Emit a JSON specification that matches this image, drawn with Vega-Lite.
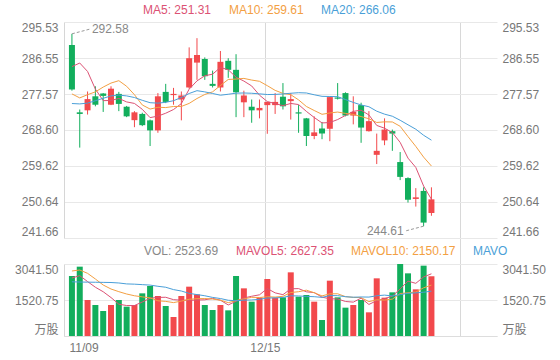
{
"$schema":"https://vega.github.io/schema/vega-lite/v6.json",
"width":433,"height":314,
"autosize":{"type":"none"},
"padding":{"left":64,"top":22,"right":63,"bottom":24},
"background":"white",
"config":{"view":{"stroke":null},"font":"Liberation Sans, Arial, 'Noto Sans CJK SC', sans-serif","axis":{"labelFont":"Liberation Sans, Arial, 'Noto Sans CJK SC', sans-serif","labelFontSize":12,"labelColor":"#777","ticks":false,"title":null,"labelOverlap":false},"legend":{"labelFont":"Liberation Sans, Arial, sans-serif","labelFontSize":12}},
"data":{"values":[
{"i":0,"open":289.8,"high":292.58,"low":278.4,"close":278.7,"vol":2534,"ma5":284.4,"ma10":277.6,"ma20":275.2,"mv5":2450,"mv10":2746,"mv20":2290},
{"i":1,"open":273.0,"high":273.7,"low":264.2,"close":272.6,"vol":2929,"ma5":285.3,"ma10":276.6,"ma20":275.1,"mv5":2550,"mv10":2788,"mv20":2280},
{"i":2,"open":273.5,"high":278.2,"low":272.45,"close":276.3,"vol":1521,"ma5":283.2,"ma10":277.4,"ma20":275.3,"mv5":2300,"mv10":2647,"mv20":2275},
{"i":3,"open":277.0,"high":279.5,"low":274.5,"close":274.9,"vol":1309,"ma5":278.8,"ma10":278.1,"ma20":275.9,"mv5":2060,"mv10":2408,"mv20":2270},
{"i":4,"open":277.7,"high":277.8,"low":273.1,"close":277.1,"vol":1056,"ma5":275.92,"ma10":279.3,"ma20":276.5,"mv5":1869.8,"mv10":2154,"mv20":2265},
{"i":5,"open":274.9,"high":279.5,"low":274.8,"close":278.9,"vol":1309,"ma5":275.96,"ma10":280.3,"ma20":277.1,"mv5":1624.8,"mv10":1985,"mv20":2260},
{"i":6,"open":277.6,"high":278.1,"low":273.3,"close":275.1,"vol":1521,"ma5":276.46,"ma10":280.9,"ma20":277.3,"mv5":1343.2,"mv10":1873,"mv20":2240},
{"i":7,"open":274.4,"high":274.6,"low":271.8,"close":272.0,"vol":1239,"ma5":275.6,"ma10":279.5,"ma20":277.1,"mv5":1286.8,"mv10":1774,"mv20":2200},
{"i":8,"open":271.05,"high":273.3,"low":269.3,"close":273.0,"vol":1309,"ma5":275.22,"ma10":277.4,"ma20":276.7,"mv5":1286.8,"mv10":1700,"mv20":2190},
{"i":9,"open":272.6,"high":272.9,"low":269.56,"close":269.8,"vol":1802,"ma5":273.76,"ma10":274.84,"ma20":276.0,"mv5":1436,"mv10":1652.9,"mv20":2170},
{"i":10,"open":271.0,"high":271.2,"low":264.6,"close":268.5,"vol":2112,"ma5":271.68,"ma10":273.82,"ma20":275.4,"mv5":1596.6,"mv10":1610.7,"mv20":2150},
{"i":11,"open":268.5,"high":277.8,"low":267.9,"close":277.0,"vol":1690,"ma5":272.06,"ma10":274.26,"ma20":275.3,"mv5":1630.4,"mv10":1486.8,"mv20":2100},
{"i":12,"open":278.1,"high":280.1,"low":275.3,"close":275.6,"vol":1267,"ma5":272.78,"ma10":274.19,"ma20":275.5,"mv5":1636,"mv10":1461.4,"mv20":2060},
{"i":13,"open":277.3,"high":279.1,"low":274.9,"close":277.6,"vol":803,"ma5":273.7,"ma10":274.46,"ma20":275.9,"mv5":1534.8,"mv10":1410.8,"mv20":1960},
{"i":14,"open":276.2,"high":278.2,"low":271.0,"close":277.2,"vol":1690,"ma5":275.18,"ma10":274.47,"ma20":276.7,"mv5":1512.4,"mv10":1474.2,"mv20":1900},
{"i":15,"open":279.2,"high":289.2,"low":278.9,"close":286.5,"vol":2084,"ma5":278.78,"ma10":275.23,"ma20":277.7,"mv5":1506.8,"mv10":1551.7,"mv20":1800},
{"i":16,"open":285.4,"high":291.5,"low":281.1,"close":287.3,"vol":1760,"ma5":280.84,"ma10":276.45,"ma20":278.4,"mv5":1520.8,"mv10":1575.6,"mv20":1750},
{"i":17,"open":286.3,"high":286.7,"low":281.1,"close":282.0,"vol":1309,"ma5":282.12,"ma10":277.45,"ma20":278.1,"mv5":1529.2,"mv10":1582.6,"mv20":1700},
{"i":18,"open":280.1,"high":283.4,"low":279.2,"close":279.6,"vol":1098,"ma5":282.52,"ma10":278.11,"ma20":277.7,"mv5":1588.2,"mv10":1561.5,"mv20":1630},
{"i":19,"open":279.2,"high":288.3,"low":278.2,"close":285.6,"vol":1309,"ma5":284.2,"ma10":279.69,"ma20":277.27,"mv5":1512,"mv10":1512.2,"mv20":1582.55},
{"i":20,"open":285.85,"high":286.5,"low":281.6,"close":283.6,"vol":1084,"ma5":283.62,"ma10":281.2,"ma20":277.51,"mv5":1312,"mv10":1409.4,"mv20":1510.05},
{"i":21,"open":283.6,"high":287.5,"low":271.8,"close":278.0,"vol":2534,"ma5":281.76,"ma10":281.3,"ma20":277.78,"mv5":1466.8,"mv10":1493.8,"mv20":1490.3},
{"i":22,"open":275.5,"high":278.4,"low":271.8,"close":277.2,"vol":2013,"ma5":280.8,"ma10":281.46,"ma20":277.83,"mv5":1607.6,"mv10":1568.4,"mv20":1514.9},
{"i":23,"open":274.4,"high":276.2,"low":270.4,"close":273.5,"vol":1450,"ma5":279.58,"ma10":281.05,"ma20":277.76,"mv5":1678,"mv10":1633.1,"mv20":1521.95},
{"i":24,"open":273.5,"high":276.2,"low":271.5,"close":274.1,"vol":1619,"ma5":277.28,"ma10":280.74,"ma20":277.61,"mv5":1740,"mv10":1626,"mv20":1550.1},
{"i":25,"open":274.8,"high":275.6,"low":267.65,"close":275.6,"vol":2408,"ma5":275.68,"ma10":279.65,"ma20":277.44,"mv5":2004.8,"mv10":1658.4,"mv20":1605.05},
{"i":26,"open":274.8,"high":277.8,"low":272.6,"close":275.6,"vol":1619,"ma5":275.2,"ma10":278.48,"ma20":277.47,"mv5":1821.8,"mv10":1644.3,"mv20":1609.95},
{"i":27,"open":276.9,"high":280.3,"low":273.7,"close":274.5,"vol":1633,"ma5":274.66,"ma10":277.73,"ma20":277.59,"mv5":1745.8,"mv10":1676.7,"mv20":1629.65},
{"i":28,"open":275.8,"high":277.8,"low":271.2,"close":276.3,"vol":2689,"ma5":275.22,"ma10":277.4,"ma20":277.76,"mv5":1993.6,"mv10":1835.8,"mv20":1698.65},
{"i":29,"open":273.0,"high":274.8,"low":267.9,"close":272.7,"vol":1661,"ma5":274.94,"ma10":276.11,"ma20":277.9,"mv5":2002,"mv10":1871,"mv20":1691.6},
{"i":30,"open":271.5,"high":271.6,"low":264.6,"close":267.1,"vol":1732,"ma5":273.24,"ma10":274.46,"ma20":277.83,"mv5":1866.8,"mv10":1935.8,"mv20":1672.6},
{"i":31,"open":267.1,"high":272.0,"low":266.3,"close":268.0,"vol":1450,"ma5":271.72,"ma10":273.46,"ma20":277.38,"mv5":1833,"mv10":1827.4,"mv20":1660.6},
{"i":32,"open":269.0,"high":270.6,"low":266.3,"close":267.7,"vol":676,"ma5":270.36,"ma10":272.51,"ma20":276.99,"mv5":1641.6,"mv10":1693.7,"mv20":1631.05},
{"i":33,"open":268.9,"high":276.9,"low":265.8,"close":276.8,"vol":2337,"ma5":270.46,"ma10":272.84,"ma20":276.95,"mv5":1571.2,"mv10":1782.4,"mv20":1707.75},
{"i":34,"open":276.7,"high":280.3,"low":276.2,"close":276.4,"vol":1633,"ma5":271.2,"ma10":273.07,"ma20":276.91,"mv5":1565.6,"mv10":1783.8,"mv20":1704.9},
{"i":35,"open":277.8,"high":278.0,"low":272.0,"close":272.2,"vol":1197,"ma5":272.22,"ma10":272.73,"ma20":276.19,"mv5":1458.6,"mv10":1662.7,"mv20":1660.55},
{"i":36,"open":272.2,"high":277.0,"low":270.0,"close":273.1,"vol":1309,"ma5":273.24,"ma10":272.48,"ma20":275.48,"mv5":1430.4,"mv10":1631.7,"mv20":1638},
{"i":37,"open":274.8,"high":275.4,"low":265.4,"close":269.2,"vol":1521,"ma5":273.54,"ma10":271.95,"ma20":274.84,"mv5":1599.4,"mv10":1620.5,"mv20":1648.6},
{"i":38,"open":268.3,"high":273.3,"low":268.2,"close":270.8,"vol":1000,"ma5":272.34,"ma10":271.4,"ma20":274.4,"mv5":1332,"mv10":1451.6,"mv20":1643.7},
{"i":39,"open":262.4,"high":267.7,"low":260.1,"close":263.4,"vol":2436,"ma5":269.74,"ma10":270.47,"ma20":273.29,"mv5":1492.6,"mv10":1529.1,"mv20":1700.05},
{"i":40,"open":266.0,"high":271.5,"low":264.8,"close":268.7,"vol":1619,"ma5":269.04,"ma10":270.63,"ma20":272.55,"mv5":1577,"mv10":1517.8,"mv20":1726.8},
{"i":41,"open":268.3,"high":268.7,"low":263.4,"close":267.7,"vol":1844,"ma5":267.96,"ma10":270.6,"ma20":272.03,"mv5":1684,"mv10":1557.2,"mv20":1692.3},
{"i":42,"open":260.6,"high":263.1,"low":256.1,"close":256.9,"vol":3041.5,"ma5":265.5,"ma10":269.52,"ma20":271.02,"mv5":1988.1,"mv10":1793.75,"mv20":1743.7},
{"i":43,"open":256.6,"high":256.8,"low":250.5,"close":251.2,"vol":2647,"ma5":261.58,"ma10":266.96,"ma20":269.9,"mv5":2317.5,"mv10":1824.75,"mv20":1803.6},
{"i":44,"open":251.4,"high":254.1,"low":249.5,"close":251.8,"vol":1971,"ma5":259.26,"ma10":264.5,"ma20":268.79,"mv5":2224.5,"mv10":1858.55,"mv20":1821.2},
{"i":45,"open":253.4,"high":254.3,"low":244.61,"close":245.5,"vol":2971,"ma5":254.62,"ma10":261.83,"ma20":267.28,"mv5":2494.9,"mv10":2035.95,"mv20":1849.3},
{"i":46,"open":247.9,"high":254.3,"low":247.2,"close":251.3,"vol":2523.69,"ma5":251.31,"ma10":259.61,"ma20":266.06,"mv5":2627.35,"mv10":2150.17,"mv20":1894.6}
]},
"encoding":{"x":{"field":"i","type":"quantitative","scale":{"domain":[-0.375,53.75],"nice":false,"zero":false},
 "axis":{"orient":"bottom","values":[-0.375,24.6875,49.6875],"labelExpr":"datum.value < 0 ? '11/09' : datum.value < 30 ? '12/15' : ''","labelAlign":{"condition":{"test":"datum.value < 0","value":"left"},"value":"center"},"grid":true,"gridColor":{"condition":{"test":"datum.value < 0","value":"transparent"},"value":"#d8d8d8"},"domain":true,"domainColor":"#dddddd","ticks":false,"labelPadding":6,"labelColor":"#777","labelFontSize":12,"title":null}}},
"layer":[
{"mark":{"type":"rule","opacity":0},
 "encoding":{"y":{"field":"i","type":"quantitative","scale":{"domain":[0,1],"range":[314,0],"nice":false,"zero":false},"axis":null}}},
{"mark":{"type":"rule","strokeWidth":1},
 "encoding":{"y":{"field":"low","type":"quantitative","scale":{"domain":[241.66,295.53],"range":[216,0],"nice":false,"zero":false},
   "axis":{"orient":"right","values":[241.66,250.64,259.62,268.6,277.57,286.55,295.53],"format":".2f","grid":false,"domain":false,"ticks":false,"labelPadding":5,"labelFlush":true,"title":null}},
  "y2":{"field":"high"},
  "color":{"condition":{"test":"datum.close >= datum.open","value":"#f2494c"},"value":"#12ae5c"}}},
{"mark":{"type":"bar","width":6},
 "encoding":{"y":{"field":"open","type":"quantitative","scale":{"domain":[241.66,295.53],"range":[216,0],"nice":false,"zero":false},
   "axis":{"orient":"left","values":[241.66,250.64,259.62,268.6,277.57,286.55,295.53],"format":".2f","grid":true,"gridColor":"#e8e8e8","domain":true,"domainColor":"#d6d6d6","ticks":false,"labelPadding":6,"labelFlush":true,"title":null}},
  "y2":{"field":"close"},
  "color":{"condition":{"test":"datum.close >= datum.open","value":"#f2494c"},"value":"#12ae5c"}}},
{"transform":[{"fold":["ma5","ma10","ma20"],"as":["key","val"]}],
 "mark":{"type":"line","strokeWidth":1},
 "encoding":{"y":{"field":"val","type":"quantitative","scale":{"domain":[241.66,295.53],"range":[216,0],"nice":false,"zero":false},"axis":null},
  "color":{"field":"key","type":"nominal","scale":{"domain":["ma5","ma10","ma20"],"range":["#dc5274","#f3a043","#4a9fd8"]},
   "legend":{"orient":"none","legendX":67,"legendY":-18,"direction":"horizontal","title":null,"symbolSize":0,"symbolStrokeWidth":0,"symbolOpacity":0,"labelOffset":0,"columnPadding":5,"gridAlign":"none",
    "labelExpr":"datum.value == 'ma5' ? 'MA5: 251.31' : datum.value == 'ma10' ? 'MA10: 259.61' : 'MA20: 266.06'",
    "encode":{"labels":{"update":{"fill":{"signal":"datum.value == 'ma5' ? '#dc5274' : datum.value == 'ma10' ? '#f3a043' : '#4a9fd8'"}}}}}}}},
{"transform":[{"filter":"datum.i == 0"}],
 "mark":{"type":"rule","x2Offset":19,"y2Offset":-5,"strokeDash":[3,2],"color":"#999","strokeWidth":1},
 "encoding":{"x2":{"field":"i"},"y":{"field":"high","type":"quantitative","scale":{"domain":[241.66,295.53],"range":[216,0],"nice":false,"zero":false},"axis":null},"y2":{"field":"high"}}},
{"transform":[{"filter":"datum.i == 0"}],
 "mark":{"type":"text","align":"left","baseline":"middle","dx":20,"dy":-5,"color":"#888","fontSize":12},
 "encoding":{"y":{"field":"high","type":"quantitative","scale":{"domain":[241.66,295.53],"range":[216,0],"nice":false,"zero":false},"axis":null},"text":{"field":"high","type":"quantitative","format":".2f"}}},
{"transform":[{"filter":"datum.i == 45"}],
 "mark":{"type":"rule","x2Offset":-19,"y2Offset":5,"strokeDash":[3,2],"color":"#999","strokeWidth":1},
 "encoding":{"x2":{"field":"i"},"y":{"field":"low","type":"quantitative","scale":{"domain":[241.66,295.53],"range":[216,0],"nice":false,"zero":false},"axis":null},"y2":{"field":"low"}}},
{"transform":[{"filter":"datum.i == 45"}],
 "mark":{"type":"text","align":"right","baseline":"middle","dx":-20,"dy":5,"color":"#888","fontSize":12},
 "encoding":{"y":{"field":"low","type":"quantitative","scale":{"domain":[241.66,295.53],"range":[216,0],"nice":false,"zero":false},"axis":null},"text":{"field":"low","type":"quantitative","format":".2f"}}},
{"mark":{"type":"bar","width":6},
 "encoding":{"y":{"field":"vol","type":"quantitative","scale":{"domain":[0,3041.5],"range":[314,242],"nice":false},
   "axis":{"orient":"left","values":[0,1520.75,3041.5],"labelExpr":"datum.value == 0 ? '万股' : format(datum.value, '.2f')","grid":true,"gridColor":"#e8e8e8","domain":true,"domainColor":"#d6d6d6","ticks":false,"labelPadding":6,"labelFlush":true,"title":null}},
  "color":{"condition":{"test":"datum.close >= datum.open","value":"#f2494c"},"value":"#12ae5c"}}},
{"transform":[{"fold":["mv5","mv10","mv20"],"as":["key","val"]}],
 "mark":{"type":"line","strokeWidth":1},
 "encoding":{"y":{"field":"val","type":"quantitative","scale":{"domain":[0,3041.5],"range":[314,242],"nice":false},
   "axis":{"orient":"right","values":[0,1520.75,3041.5],"labelExpr":"datum.value == 0 ? '万股' : format(datum.value, '.2f')","grid":false,"domain":false,"ticks":false,"labelPadding":5,"labelFlush":true,"title":null}},
  "color":{"field":"key","type":"nominal","scale":{"domain":["vol","mv5","mv10","mv20"],"range":["#888888","#dc5274","#f3a043","#4a9fd8"]},
   "legend":{"orient":"none","legendX":68,"legendY":223,"direction":"horizontal","title":null,"symbolSize":0,"symbolStrokeWidth":0,"symbolOpacity":0,"labelOffset":0,"columnPadding":5,"gridAlign":"none",
    "labelExpr":"datum.value == 'vol' ? 'VOL: 2523.69' : datum.value == 'mv5' ? 'MAVOL5: 2627.35' : datum.value == 'mv10' ? 'MAVOL10: 2150.17' : 'MAVO'",
    "encode":{"labels":{"update":{"fill":{"signal":"datum.value == 'vol' ? '#888888' : datum.value == 'mv5' ? '#dc5274' : datum.value == 'mv10' ? '#f3a043' : '#4a9fd8'"}}}}}}}}
],
"resolve":{"scale":{"y":"independent","color":"independent"}}
}
